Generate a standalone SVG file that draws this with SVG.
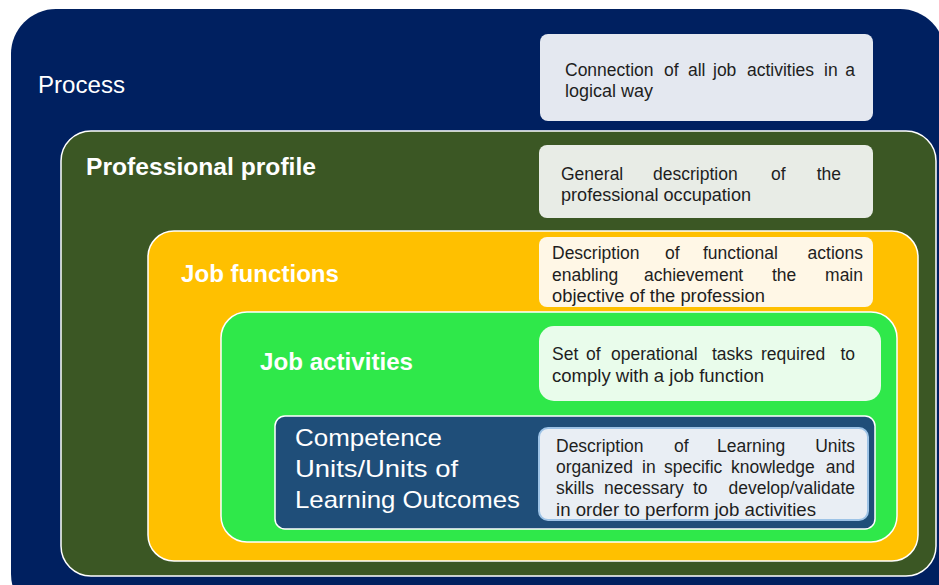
<svg xmlns="http://www.w3.org/2000/svg" width="939" height="585" viewBox="0 0 939 585">
<style>
.frame{stroke:#ffffff;stroke-width:1.5}
.title{font-family:"Liberation Sans",Arial,sans-serif;fill:#ffffff}
.tb{font-weight:bold;font-size:24px}
.tr{font-size:24px}
.desc{font-family:"Liberation Sans",Arial,sans-serif;font-size:17.5px;fill:#1e1e1e}
.end{text-anchor:end}
</style>
<rect width="939" height="585" fill="#ffffff"/>
<g id="process">
  <rect x="11" y="9" width="934" height="610" rx="45" fill="#002060"/>
  <text class="title tr" x="38" y="93" textLength="87" lengthAdjust="spacingAndGlyphs">Process</text>
</g>
<g id="professional-profile">
  <rect class="frame" x="61" y="131" width="875" height="445" rx="30" fill="#3B5724"/>
  <text class="title tb" x="86" y="175" textLength="230" lengthAdjust="spacingAndGlyphs">Professional profile</text>
</g>
<g id="job-functions">
  <rect class="frame" x="148" y="231" width="770" height="330" rx="26" fill="#FFC000"/>
  <text class="title tb" x="181" y="282" textLength="158" lengthAdjust="spacingAndGlyphs">Job functions</text>
</g>
<g id="job-activities">
  <rect class="frame" x="221" y="312" width="676" height="230" rx="26" fill="#2FE84A"/>
  <text class="title tb" x="260" y="370" textLength="153" lengthAdjust="spacingAndGlyphs">Job activities</text>
</g>
<g id="competence-units">
  <rect class="frame" x="275" y="416" width="600" height="113" rx="10" fill="#1F4E79"/>
  <text class="title tr" x="295" y="446" textLength="147" lengthAdjust="spacingAndGlyphs">Competence</text>
  <text class="title tr" x="295" y="477" textLength="163" lengthAdjust="spacingAndGlyphs">Units/Units of</text>
  <text class="title tr" x="295" y="508" textLength="225" lengthAdjust="spacingAndGlyphs">Learning Outcomes</text>
</g>
<g id="desc-process">
  <rect x="540" y="34" width="333" height="87" rx="8" fill="#E4E8F0"/>
  <text class="desc" y="76"><tspan x="565">Connection</tspan><tspan x="664">of</tspan><tspan x="688">all</tspan><tspan x="713">job</tspan><tspan x="747">activities</tspan><tspan x="824">in</tspan></text>
  <text class="desc end" x="855" y="76">a</text>
  <text class="desc" x="565" y="97" textLength="88" lengthAdjust="spacingAndGlyphs">logical way</text>
</g>
<g id="desc-profile">
  <rect x="539" y="145" width="334" height="73" rx="8" fill="#E8ECE6"/>
  <text class="desc" y="180"><tspan x="561">General</tspan><tspan x="653">description</tspan><tspan x="771">of</tspan></text>
  <text class="desc end" x="841" y="180">the</text>
  <text class="desc" x="561" y="201" textLength="190" lengthAdjust="spacingAndGlyphs">professional occupation</text>
</g>
<g id="desc-functions">
  <rect x="539" y="237" width="334" height="70" rx="8" fill="#FFF7E6"/>
  <text class="desc" y="259"><tspan x="552">Description</tspan><tspan x="665">of</tspan><tspan x="703">functional</tspan></text>
  <text class="desc end" x="863" y="259">actions</text>
  <text class="desc" y="281"><tspan x="552">enabling</tspan><tspan x="644">achievement</tspan><tspan x="772">the</tspan></text>
  <text class="desc end" x="863" y="281">main</text>
  <text class="desc" x="552" y="302" textLength="213" lengthAdjust="spacingAndGlyphs">objective of the profession</text>
</g>
<g id="desc-activities">
  <rect x="539" y="326" width="342" height="75" rx="15" fill="#E9FCEB"/>
  <text class="desc" y="360"><tspan x="552">Set</tspan><tspan x="586">of</tspan><tspan x="611">operational</tspan><tspan x="712">tasks</tspan><tspan x="761">required</tspan></text>
  <text class="desc end" x="855" y="360">to</text>
  <text class="desc" x="552" y="382" textLength="212" lengthAdjust="spacingAndGlyphs">comply with a job function</text>
</g>
<g id="desc-competence">
  <rect x="539" y="428" width="329" height="92" rx="9" fill="#E9EEF4" stroke="#9DC3E6" stroke-width="2"/>
  <text class="desc" y="452"><tspan x="556">Description</tspan><tspan x="674">of</tspan><tspan x="717">Learning</tspan></text>
  <text class="desc end" x="855" y="452">Units</text>
  <text class="desc" y="473"><tspan x="556">organized</tspan><tspan x="642">in</tspan><tspan x="664">specific</tspan><tspan x="731">knowledge</tspan></text>
  <text class="desc end" x="855" y="473">and</text>
  <text class="desc" y="494"><tspan x="556">skills</tspan><tspan x="604">necessary</tspan><tspan x="693">to</tspan></text>
  <text class="desc end" x="855" y="494">develop/validate</text>
  <text class="desc" x="556" y="516" textLength="260" lengthAdjust="spacingAndGlyphs">in order to perform job activities</text>
</g>
<g id="connectors"></g>
</svg>
